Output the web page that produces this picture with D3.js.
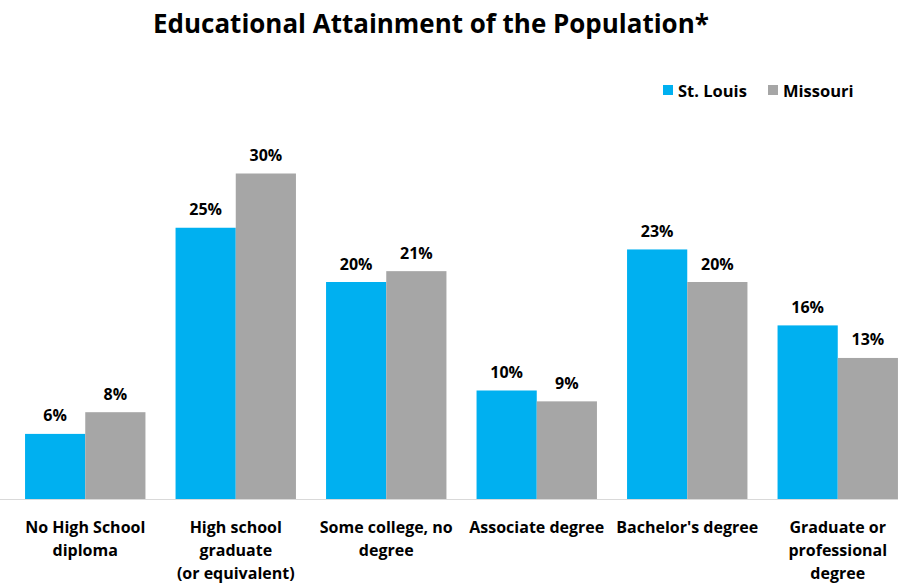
<!DOCTYPE html>
<html>
<head>
<meta charset="utf-8">
<script src="https://cdn.jsdelivr.net/npm/d3@7"></script>
<style>
  html, body { margin: 0; padding: 0; background: #fff; }
  svg { display: block; }
  text { font-family: "Open Sans", Lato, sans-serif; font-weight: bold; fill: #000; }
</style>
</head>
<body>
<svg id="chart" width="898" height="583"></svg>
<script>
// Educational attainment, share of population (%)
const categories = [
  ["No High School", "diploma"],
  ["High school", "graduate", "(or equivalent)"],
  ["Some college, no", "degree"],
  ["Associate degree"],
  ["Bachelor's degree"],
  ["Graduate or", "professional", "degree"]
];
const seriesNames = ["St. Louis", "Missouri"];
const stLouis = [6, 25, 20, 10, 23, 16];
const missouri = [8, 30, 21, 9, 20, 13];
const seriesColors = ["#00B0F0", "#A6A6A6"];

const width = 898, height = 583;
const baseY = 499;
const svg = d3.select("#chart");

const catKeys = categories.map((c, i) => i);
const x = d3.scaleBand().domain(catKeys).range([10, 913]).paddingInner(0.2).paddingOuter(0.1);
const xs = d3.scaleBand().domain(seriesNames).range([0, x.bandwidth()]);
const y = d3.scaleLinear().domain([0, 35]).range([baseY, baseY - 35 * 10.85]);

// Title, sized to span its target width
const title = svg.append("text")
  .attr("x", 431).attr("y", 33)
  .attr("text-anchor", "middle")
  .style("font-size", "22px")
  .text("Educational Attainment of the Population*");
const tw = title.node().getComputedTextLength();
title.style("font-size", (22 * 556 / tw).toFixed(2) + "px");

// Legend
const legend = svg.append("g").attr("transform", "translate(663, 90)");
const legendX = [0, 105];
seriesNames.forEach((name, i) => {
  const g = legend.append("g").attr("transform", `translate(${legendX[i]},0)`);
  g.append("rect").attr("x", 0).attr("y", -5).attr("width", 10).attr("height", 10).attr("fill", seriesColors[i]);
  g.append("text").attr("x", 15).attr("y", 6.5).style("font-size", "16.5px").text(name);
});

// Bars
const rows = catKeys.map(i => ({ i, values: [stLouis[i], missouri[i]] }));
const groups = svg.append("g").selectAll("g").data(rows).join("g")
  .attr("transform", d => `translate(${x(d.i)},0)`);

groups.selectAll("rect").data(d => d.values.map((v, k) => ({ v, k })))
  .join("rect")
  .attr("x", d => xs(seriesNames[d.k]))
  .attr("y", d => y(d.v))
  .attr("width", xs.bandwidth())
  .attr("height", d => baseY - y(d.v))
  .attr("fill", d => seriesColors[d.k]);

groups.selectAll("text.val").data(d => d.values.map((v, k) => ({ v, k })))
  .join("text")
  .attr("class", "val")
  .attr("x", d => xs(seriesNames[d.k]) + xs.bandwidth() / 2)
  .attr("y", d => y(d.v) - 12.5)
  .attr("text-anchor", "middle")
  .style("font-size", "16px")
  .text(d => d.v + "%");

// Baseline
svg.append("line")
  .attr("x1", 0).attr("x2", width)
  .attr("y1", baseY + 0.5).attr("y2", baseY + 0.5)
  .attr("stroke", "#D9D9D9").attr("stroke-width", 1);

// Category labels
const labels = svg.append("g").selectAll("text").data(rows).join("text")
  .attr("text-anchor", "middle")
  .style("font-size", "16px")
  .attr("x", d => x(d.i) + x.bandwidth() / 2)
  .attr("y", 533);
labels.selectAll("tspan").data(d => categories[d.i].map(s => ({ s, x: x(d.i) + x.bandwidth() / 2 })))
  .join("tspan")
  .attr("x", d => d.x)
  .attr("dy", (d, j) => j === 0 ? 0 : 23)
  .text(d => d.s);
</script>
</body>
</html>
